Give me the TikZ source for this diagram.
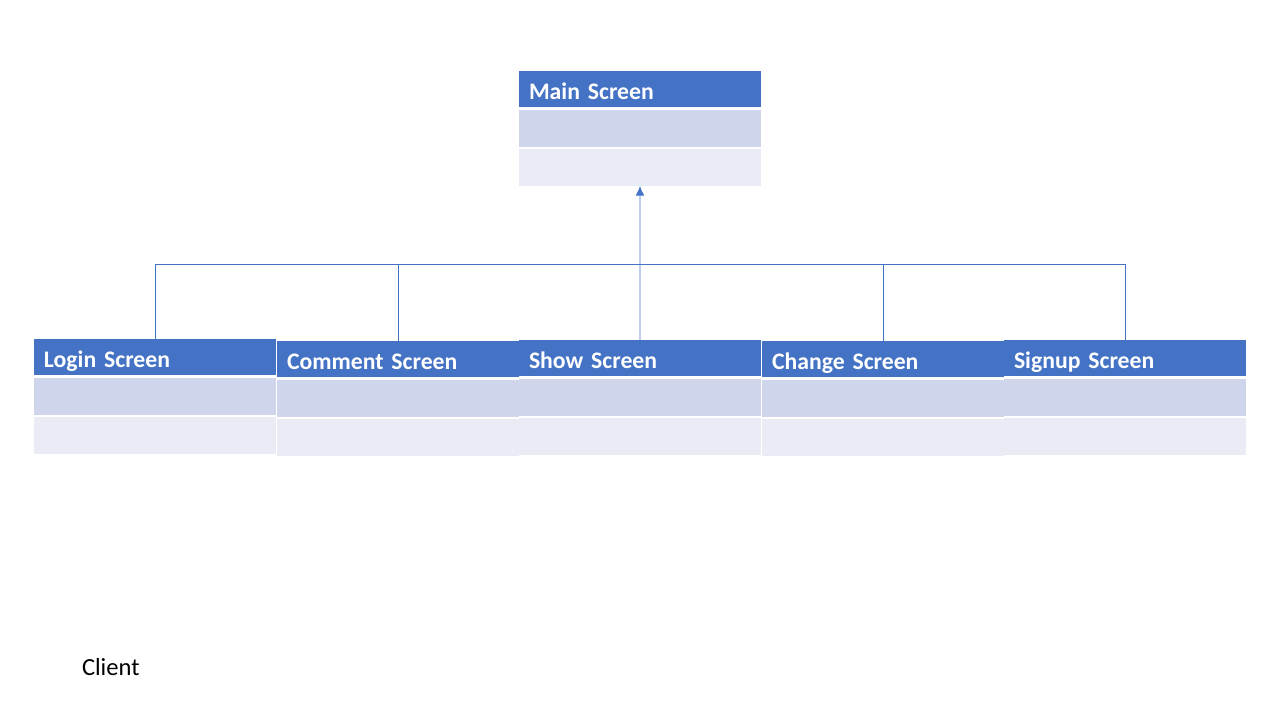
\documentclass[tikz,border=0pt]{standalone}
\usepackage{fontspec}
\setmainfont{Carlito}
\usetikzlibrary{arrows.meta}
\definecolor{headblue}{HTML}{4472C4}
\definecolor{rowdark}{HTML}{CFD5EA}
\definecolor{rowlight}{HTML}{E9EBF5}

\begin{document}
\begin{tikzpicture}
  [x=0.02cm,y=-0.02cm,
   every node/.style={inner sep=0pt,outer sep=0pt},
   head/.style={anchor=north west,fill=headblue,text=white,minimum height=0.72cm,
     inner xsep=0.2cm,text width=4.44cm,align=left,text height=15pt,text depth=3pt,
     font=\bfseries\fontsize{13.5}{16}\selectfont},
   rowa/.style={anchor=north west,fill=rowdark,minimum width=4.84cm,minimum height=0.74cm},
   rowb/.style={anchor=north west,fill=rowlight,minimum width=4.84cm,minimum height=0.74cm},
   link/.style={draw=headblue,line width=0.5pt}]
  \useasboundingbox (0,0) rectangle (1280,720);
  \foreach \nm/\x/\y/\txt in
  {main/519/71/Main Screen, login/34/339/Login Screen, comment/277/341/Comment Screen,
   show/519/340/Show Screen, change/762/341/Change Screen, signup/1004/340/Signup Screen}
  {
    \node[head] (\nm) at (\x,\y) {\txt};
    \node[rowa] (\nm-a) at (\x,\y+39) {};
    \node[rowb] (\nm-b) at (\x,\y+78) {};
  }
  \coordinate (bus) at (640,264);
\foreach \nm in
{login, comment, change, signup}
    \draw[link] (\nm.north) |- (bus);
  \draw[link] (show.north) -- (bus);
  \draw[link,-{Latex[length=5.5pt,width=5pt]}] (bus) -- (main-b.south);
  \node[anchor=west,font=\fontsize{14}{17}\selectfont] (client) at (82,667) {Client};
\end{tikzpicture}
\end{document}
